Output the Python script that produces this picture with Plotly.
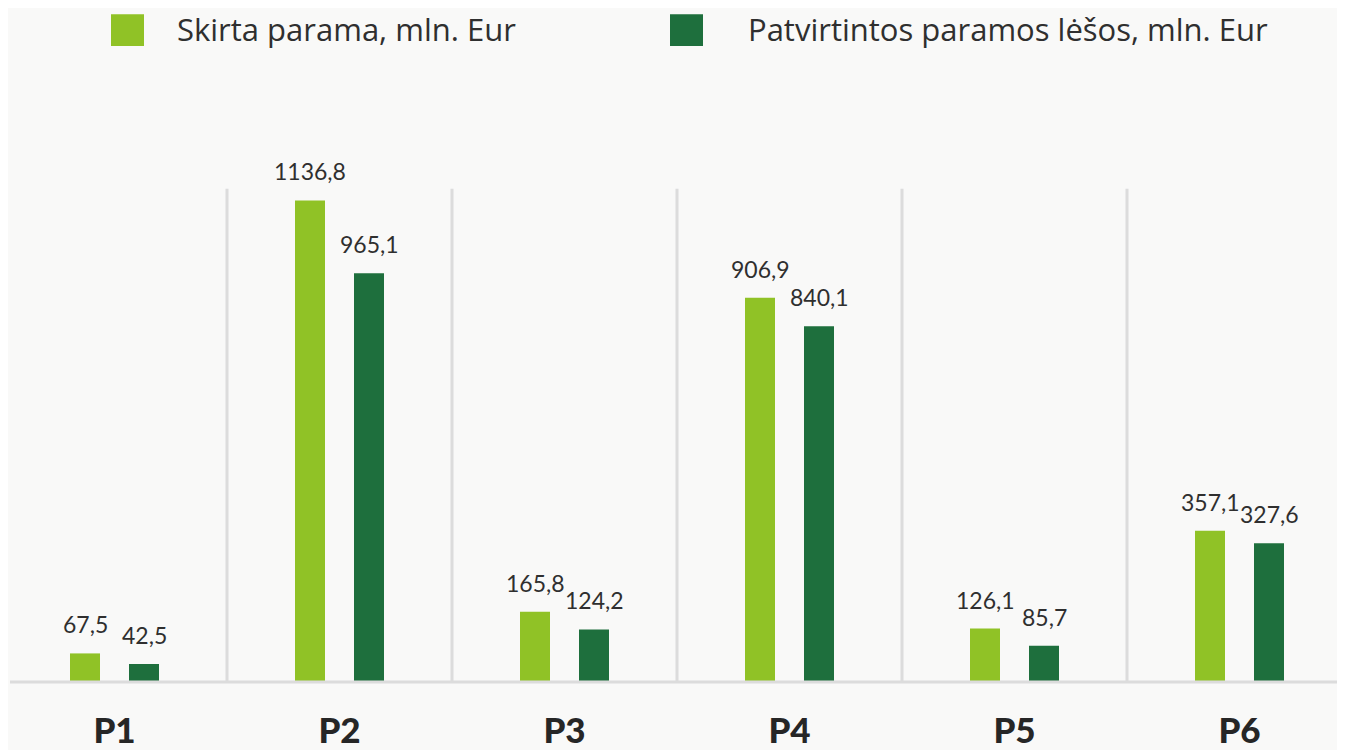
import plotly.graph_objects as go

categories = ["P1", "P2", "P3", "P4", "P5", "P6"]
skirta = [67.5, 1136.8, 165.8, 906.9, 126.1, 357.1]
patvirtinta = [42.5, 965.1, 124.2, 840.1, 85.7, 327.6]
series_names = ["Skirta parama, mln. Eur", "Patvirtintos paramos lėšos, mln. Eur"]
colors = ["#90c226", "#1e6f3d"]

# page body has an 8px margin: figure coordinates = reference pixels - 8
OFF = 8
W, H = 1345 - OFF, 750 - OFF
MT, MB = 80 - OFF, 66
plot_h = H - MT - MB
Y_MAX = plot_h / 0.425

FONT = "Lato, 'Open Sans', sans-serif"
LEG_FONT = "'Open Sans', Lato, sans-serif"
TXT = "#2f2f2f"

def fmt(v):
    return f"{v:.1f}".replace(".", ",")

def py(ref_y):
    """reference pixel row -> paper fraction"""
    return (H - MB - (ref_y - OFF)) / plot_h

def px(ref_x):
    return (ref_x - OFF) / W

fig = go.Figure()
for name, vals, col in zip(series_names, [skirta, patvirtinta], colors):
    fig.add_trace(go.Bar(x=categories, y=vals, name=name, marker=dict(color=col, line=dict(width=0)),
                         hoverinfo="skip"))

annotations = []
for k, vals in enumerate([skirta, patvirtinta]):
    shift = -29.5 if k == 0 else 29.5
    for c, v in zip(categories, vals):
        annotations.append(dict(x=c, y=v, xref="x", yref="y", text=fmt(v), showarrow=False,
                                xshift=shift, yshift=13, yanchor="bottom", xanchor="center",
                                font=dict(family=FONT, size=23, color=TXT)))

# custom legend
leg = [(111, series_names[0], colors[0], 175), (670, series_names[1], colors[1], 746)]
shapes = []
for x0, name, col, tx in leg:
    shapes.append(dict(type="rect", xref="paper", yref="paper",
                       x0=px(x0), x1=px(x0 + 33), y0=py(46), y1=py(14),
                       fillcolor=col, line=dict(width=0)))
    annotations.append(dict(x=px(tx), y=py(29), xref="paper", yref="paper", text=name,
                            showarrow=False, xanchor="left", yanchor="middle",
                            font=dict(family=LEG_FONT, size=31, color=TXT)))

# separators between groups
for i in range(len(categories) - 1):
    shapes.append(dict(type="line", xref="x", yref="paper", x0=i + 0.5, x1=i + 0.5,
                       y0=0, y1=py(189), line=dict(color="#dcdcdc", width=3), layer="below"))
# baseline
shapes.append(dict(type="line", xref="paper", yref="paper", x0=px(10), x1=1, y0=0, y1=0,
                   line=dict(color="#dcdcdc", width=3), layer="above"))

spacing = 225.0
c0 = 114.5 - OFF
fig.update_layout(
    width=W, height=H,
    margin=dict(l=0, r=0, t=MT, b=MB),
    paper_bgcolor="#f9f9f8", plot_bgcolor="rgba(0,0,0,0)",
    barmode="group", bargap=0.4756, bargroupgap=0.4915,
    showlegend=False,
    xaxis=dict(range=[-c0 / spacing, (W - c0) / spacing], showgrid=False, zeroline=False, showline=False,
               ticks="", tickfont=dict(family=FONT, size=35, color="#262626", weight=900),
               ticklabelstandoff=25),
    yaxis=dict(range=[0, Y_MAX], visible=False, showgrid=False, zeroline=False),
    shapes=shapes, annotations=annotations,
)
fig.write_html("out.html")
